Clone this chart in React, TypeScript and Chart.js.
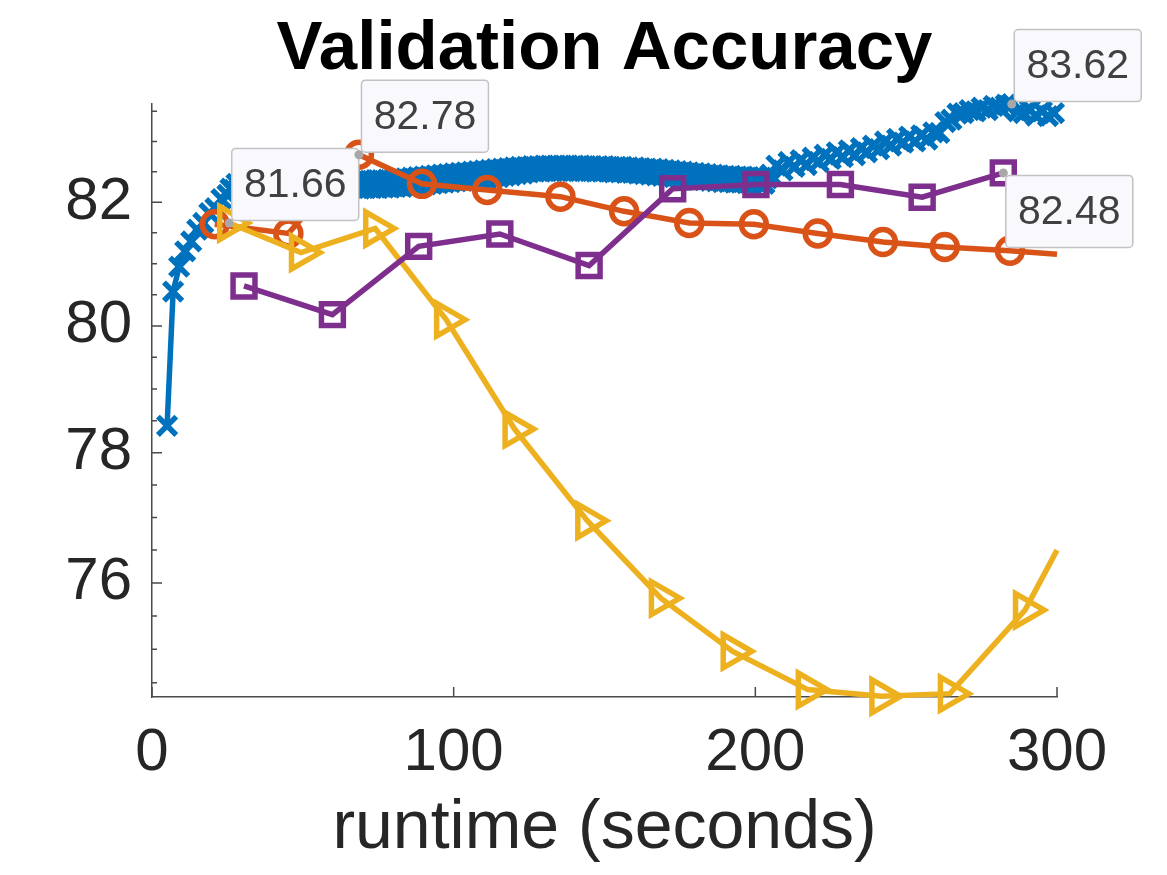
import React, { useEffect, useRef } from "react";
import { Chart, registerables } from "chart.js";

Chart.register(...registerables);

// ---------- data ----------
const blueX = [
  5, 7, 9, 11, 13, 15, 17, 19, 21, 23,
  25, 26, 27, 28, 29, 30, 31, 32, 33, 34,
  35, 36, 37, 38, 39, 40, 41, 42, 43, 44,
  45, 46, 47, 48, 49, 50, 51, 52, 53, 54,
  55, 56, 57, 58, 59, 60, 61, 62, 63, 64,
  65, 66, 67, 68, 69, 70, 71, 72, 73, 74,
  75, 76, 77, 78, 79, 80, 81, 82, 83, 84,
  85, 86, 87, 88, 89, 90, 91, 92, 93, 94,
  95, 96, 97, 98, 99, 100, 101, 102, 103, 104,
  105, 106, 107, 108, 109, 110, 111, 112, 113, 114,
  115, 116, 117, 118, 119, 120, 121, 122, 123, 124,
  125, 126, 127, 128, 129, 130, 131, 132, 133, 134,
  135, 136, 137, 138, 139, 140, 141, 142, 143, 144,
  145, 146, 147, 148, 149, 150, 151, 152, 153, 154,
  155, 156, 157, 158, 159, 160, 161, 162, 163, 164,
  165, 166, 167, 168, 169, 170, 171, 172, 173, 174,
  175, 176, 177, 178, 179, 180, 181, 182, 183, 184,
  185, 186, 187, 188, 189, 190, 191, 192, 193, 194,
  195, 196, 197, 198, 199, 200, 201, 202, 203, 204,
  205, 207, 209, 211, 213, 215, 217, 219, 221, 223,
  225, 227, 229, 231, 233, 235, 237, 239, 241, 243,
  245, 247, 249, 251, 253, 255, 257, 259, 261, 263,
  265, 267, 269, 271, 273, 275, 277, 279, 281, 283,
  285, 287, 289, 291, 293, 295, 297, 299,
];
const blueY = [
  78.42, 80.55, 80.95, 81.2, 81.36, 81.55, 81.66, 81.82, 81.9, 82.05,
  82.12, 82.22, 82.2, 82.3, 82.22, 82.35, 82.23, 82.36, 82.22, 82.36,
  82.23, 82.35, 82.22, 82.36, 82.23, 82.36, 82.22, 82.35, 82.23, 82.36,
  82.22, 82.36, 82.23, 82.35, 82.22, 82.36, 82.23, 82.36, 82.22, 82.35,
  82.23, 82.36, 82.22, 82.35, 82.23, 82.36, 82.22, 82.36, 82.23, 82.35,
  82.22, 82.36, 82.23, 82.35, 82.22, 82.36, 82.23, 82.35, 82.23, 82.36,
  82.23, 82.36, 82.24, 82.37, 82.24, 82.37, 82.25, 82.38, 82.25, 82.39,
  82.26, 82.4, 82.27, 82.41, 82.28, 82.42, 82.29, 82.43, 82.3, 82.44,
  82.31, 82.45, 82.32, 82.46, 82.33, 82.47, 82.34, 82.48, 82.35, 82.49,
  82.36, 82.5, 82.37, 82.51, 82.38, 82.52, 82.39, 82.53, 82.4, 82.54,
  82.41, 82.55, 82.43, 82.56, 82.44, 82.57, 82.46, 82.58, 82.47, 82.58,
  82.49, 82.59, 82.5, 82.59, 82.5, 82.6, 82.51, 82.6, 82.51, 82.6,
  82.51, 82.6, 82.51, 82.6, 82.51, 82.6, 82.51, 82.6, 82.51, 82.59,
  82.51, 82.59, 82.5, 82.59, 82.5, 82.59, 82.5, 82.58, 82.49, 82.58,
  82.49, 82.58, 82.48, 82.57, 82.48, 82.57, 82.47, 82.56, 82.46, 82.55,
  82.45, 82.55, 82.44, 82.54, 82.43, 82.53, 82.42, 82.52, 82.41, 82.51,
  82.4, 82.5, 82.39, 82.49, 82.38, 82.48, 82.37, 82.47, 82.36, 82.46,
  82.35, 82.45, 82.34, 82.44, 82.33, 82.43, 82.33, 82.43, 82.32, 82.42,
  82.32, 82.42, 82.31, 82.41, 82.31, 82.41, 82.3, 82.4, 82.3, 82.39,
  82.45, 82.6, 82.52, 82.66, 82.58, 82.69, 82.61, 82.73, 82.66, 82.78,
  82.71, 82.82, 82.74, 82.85, 82.77, 82.89, 82.82, 82.93, 82.87, 83.0,
  82.93, 83.04, 82.98, 83.08, 83.0, 83.1, 83.03, 83.15, 83.14, 83.32,
  83.36, 83.46, 83.47, 83.52, 83.5, 83.56, 83.52, 83.59, 83.56, 83.61,
  83.62, 83.5, 83.47, 83.52, 83.43, 83.5, 83.42, 83.47,
];

const orangeX = [20.8, 45.2, 68.6, 89.5, 111.1, 135.4, 156.5, 178.1, 199.5, 220.7, 242.3, 262.8, 284.4, 300];
const orangeY = [81.64, 81.49, 82.78, 82.3, 82.2, 82.09, 81.85, 81.66, 81.64, 81.49, 81.35, 81.27, 81.21, 81.15];
const orangeMarkerCount = 13;

const yellowX = [25.6, 49.4, 74.0, 97.5, 120.2, 144.3, 168.7, 192.5, 217.4, 241.8, 264.5, 289.4, 300];
const yellowY = [81.66, 81.18, 81.57, 80.1, 78.37, 76.95, 75.77, 74.97, 74.4, 74.3, 74.34, 75.59, 76.5];
const yellowMarkerCount = 12;

const purpleX = [30.5, 59.8, 88.4, 115.3, 144.9, 172.6, 200.2, 228.2, 255.3, 282.2];
const purpleY = [80.64, 80.18, 81.28, 81.48, 80.97, 82.22, 82.29, 82.29, 82.08, 82.48];

const xTicks = [0, 100, 200, 300];
const yTicks = [76, 78, 80, 82];
const yMinorTicks = [74.5, 75, 75.5, 76, 76.5, 77, 77.5, 78, 78.5, 79, 79.5, 80, 80.5, 81, 81.5, 82, 82.5, 83, 83.5];

// datatips: dataset index, point index, placement
const datatips = [
  { ds: 2, i: 0, dir: "ur" },
  { ds: 1, i: 2, dir: "ur" },
  { ds: 0, i: blueX.indexOf(285), dir: "ur" },
  { ds: 3, i: 9, dir: "dr" },
];

const TITLE = "Validation Accuracy";
const XLABEL = "runtime (seconds)";

// ---------- styles ----------
const FONT = "'Liberation Sans', Arial, Helvetica, sans-serif";
const TEXT = "#262626";
const AXIS = "#4a4a4a";
const BLUE = "#0072BD";
const ORANGE = "#D95319";
const YELLOW = "#EDB120";
const PURPLE = "#7E2F8E";
const LW = 5.5;

function pts(xs: number[], ys: number[]) {
  return xs.map((x, i) => ({ x, y: ys[i] }));
}

const allY = [...blueY, ...orangeY, ...yellowY, ...purpleY];
const yMin = Math.min(...allY) - 0.01;
const yMax = Math.max(...allY) + 0.005;

const ticksPlugin = {
  id: "inwardTicks",
  beforeDatasetsDraw(chart: any) {
    const { ctx, chartArea: a, scales } = chart;
    const xs = scales.x;
    const ys = scales.y;
    ctx.save();
    ctx.strokeStyle = AXIS;
    ctx.lineWidth = 1.5;
    ctx.beginPath();
    for (const v of yMinorTicks) {
      const py = ys.getPixelForValue(v);
      const len = yTicks.includes(v) ? 10 : 5;
      ctx.moveTo(a.left, py);
      ctx.lineTo(a.left + len, py);
    }
    for (const v of xTicks) {
      const px = xs.getPixelForValue(v);
      ctx.moveTo(px, a.bottom);
      ctx.lineTo(px, a.bottom - 10);
    }
    ctx.stroke();
    ctx.restore();
  },
};

function roundRect(ctx: CanvasRenderingContext2D, x: number, y: number, w: number, h: number, r: number) {
  ctx.beginPath();
  ctx.moveTo(x + r, y);
  ctx.lineTo(x + w - r, y);
  ctx.arcTo(x + w, y, x + w, y + r, r);
  ctx.lineTo(x + w, y + h - r);
  ctx.arcTo(x + w, y + h, x + w - r, y + h, r);
  ctx.lineTo(x + r, y + h);
  ctx.arcTo(x, y + h, x, y + h - r, r);
  ctx.lineTo(x, y + r);
  ctx.arcTo(x, y, x + r, y, r);
  ctx.closePath();
}

const datatipPlugin = {
  id: "datatips",
  afterDatasetsDraw(chart: any) {
    const { ctx } = chart;
    for (const tip of datatips) {
      const meta = chart.getDatasetMeta(tip.ds);
      const el = meta.data[tip.i];
      if (!el) continue;
      const value = chart.data.datasets[tip.ds].data[tip.i].y as number;
      const label = value.toFixed(2);
      const px = el.x;
      const py = el.y;
      const w = 127;
      const h = 72;
      const bx = px + 2.5;
      const by = tip.dir === "ur" ? py - 2.5 - h : py + 2.5;
      ctx.save();
      roundRect(ctx, bx, by, w, h, 4);
      ctx.fillStyle = "#f9f9fd";
      ctx.fill();
      ctx.strokeStyle = "#c2c2c2";
      ctx.lineWidth = 1.5;
      ctx.stroke();
      ctx.fillStyle = "#404040";
      ctx.font = `41px ${FONT}`;
      ctx.textAlign = "center";
      ctx.textBaseline = "middle";
      ctx.fillText(label, bx + w / 2, by + h / 2 + 1);
      ctx.beginPath();
      ctx.arc(px, py, 4.5, 0, Math.PI * 2);
      ctx.fillStyle = "#a8a8a8";
      ctx.fill();
      ctx.restore();
    }
  },
};

export default function App() {
  const ref = useRef<HTMLCanvasElement | null>(null);

  useEffect(() => {
    if (!ref.current) return;
    const chart = new Chart(ref.current, {
      type: "line",
      data: {
        datasets: [
          {
            label: "blue",
            data: pts(blueX, blueY),
            borderColor: BLUE,
            borderWidth: LW,
            pointStyle: "crossRot",
            pointRadius: 13,
            pointBorderColor: BLUE,
            pointBorderWidth: LW,
            pointBackgroundColor: "rgba(0,0,0,0)",
            order: 4,
            clip: false,
          } as any,
          {
            label: "orange",
            data: pts(orangeX, orangeY),
            borderColor: ORANGE,
            borderWidth: LW,
            pointStyle: "circle",
            pointRadius: (c: any) => (c.dataIndex < orangeMarkerCount ? 12.5 : 0),
            pointBorderColor: ORANGE,
            pointBorderWidth: LW,
            pointBackgroundColor: "rgba(0,0,0,0)",
            order: 3,
            clip: false,
          } as any,
          {
            label: "yellow",
            data: pts(yellowX, yellowY),
            borderColor: YELLOW,
            borderWidth: LW,
            pointStyle: "triangle",
            pointRotation: 90,
            pointRadius: (c: any) => (c.dataIndex < yellowMarkerCount ? 19 : 0),
            pointBorderColor: YELLOW,
            pointBorderWidth: LW,
            pointBackgroundColor: "rgba(0,0,0,0)",
            order: 2,
            clip: false,
          } as any,
          {
            label: "purple",
            data: pts(purpleX, purpleY),
            borderColor: PURPLE,
            borderWidth: LW,
            pointStyle: "rect",
            pointRadius: 15.5,
            pointBorderColor: PURPLE,
            pointBorderWidth: LW,
            pointBackgroundColor: "rgba(0,0,0,0)",
            order: 1,
            clip: false,
          } as any,
        ],
      },
      options: {
        responsive: false,
        animation: false,
        devicePixelRatio: 1,
        layout: { padding: { left: 0, right: 110, top: 0, bottom: 0 } },
        plugins: {
          legend: { display: false },
          tooltip: { enabled: false },
          title: {
            display: true,
            fullSize: false,
            text: TITLE,
            color: "#000000",
            font: { family: FONT, size: 69, weight: "bold" },
            padding: { top: 9, bottom: 12 },
          },
        },
        scales: {
          x: {
            type: "linear",
            position: "bottom",
            min: 0,
            max: 300,
            afterBuildTicks: (s: any) => {
              s.ticks = xTicks.map((v) => ({ value: v }));
            },
            afterFit: (s: any) => {
              s.height = 178;
            },
            ticks: {
              color: TEXT,
              font: { family: FONT, size: 60 },
              padding: 20,
              maxRotation: 0,
              autoSkip: false,
              callback: (v: any) => String(v),
            },
            grid: { display: false, drawTicks: false, drawOnChartArea: false },
            border: { display: true, color: AXIS, width: 1.5 },
            title: {
              display: true,
              text: XLABEL,
              color: TEXT,
              font: { family: FONT, size: 68 },
              padding: { top: 0, bottom: 5 },
            },
          },
          y: {
            type: "logarithmic",
            position: "left",
            min: yMin,
            max: yMax,
            afterBuildTicks: (s: any) => {
              s.ticks = yTicks.map((v) => ({ value: v }));
            },
            afterFit: (s: any) => {
              s.width = 152;
            },
            ticks: {
              color: TEXT,
              font: { family: FONT, size: 60 },
              padding: 20,
              autoSkip: false,
              callback: (v: any) => String(v),
            },
            grid: { display: false, drawTicks: false, drawOnChartArea: false },
            border: { display: true, color: AXIS, width: 1.5 },
          },
        },
      } as any,
      plugins: [ticksPlugin, datatipPlugin],
    });
    return () => chart.destroy();
  }, []);

  return (
    <div style={{ position: "fixed", left: 0, top: 0, width: 1167, height: 875, background: "#ffffff" }}>
      <canvas ref={ref} width={1167} height={875} style={{ display: "block" }} />
    </div>
  );
}
